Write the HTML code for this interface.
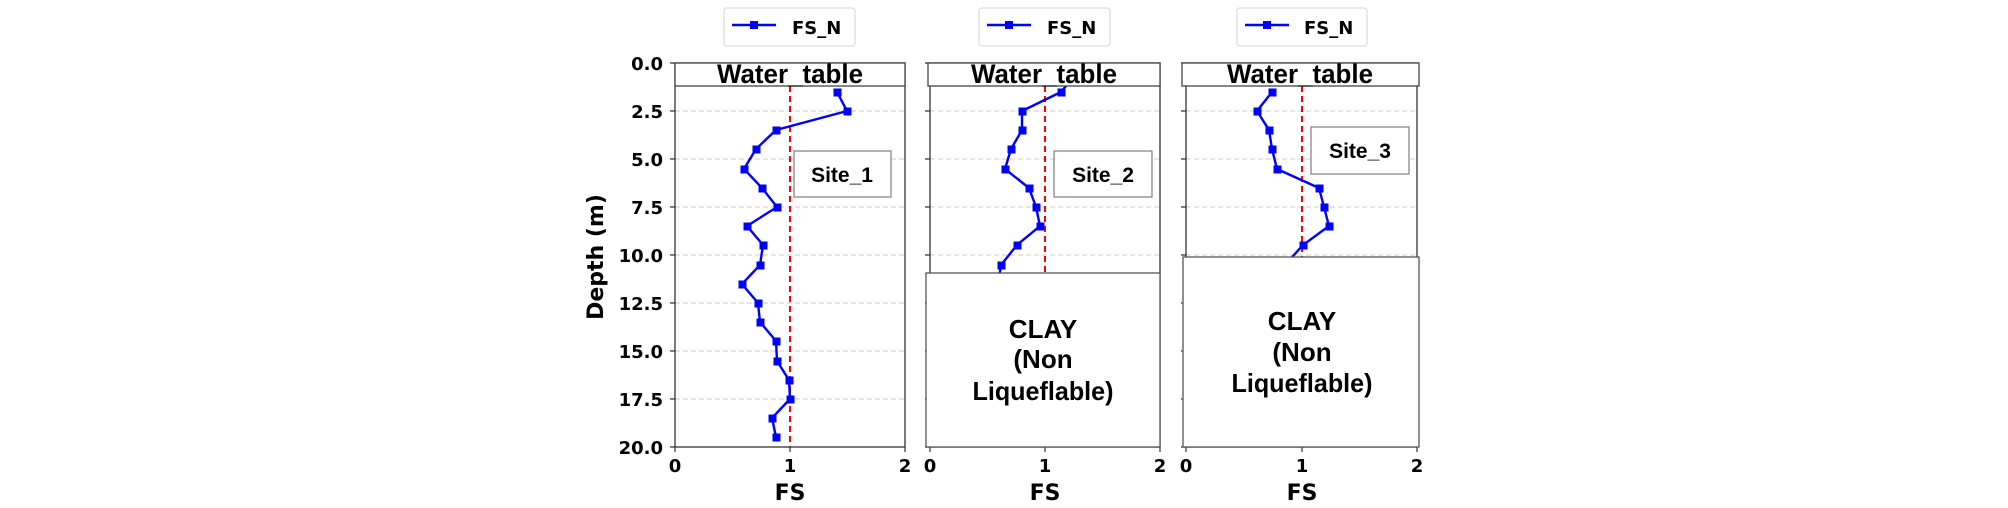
<!DOCTYPE html>
<html><head><meta charset="utf-8"><style>
html,body{margin:0;padding:0;background:#fff;}
svg{display:block}
.tk{font-family:"DejaVu Sans",sans-serif;font-weight:bold;font-size:18px;fill:#000}
.lb{font-family:"DejaVu Sans",sans-serif;font-weight:bold;font-size:22px;fill:#000}
.mg{font-family:"Liberation Sans","Noto Sans CJK KR",sans-serif;font-weight:bold;fill:#000}
</style></head><body>
<svg width="2008" height="508" viewBox="0 0 2008 508" xmlns="http://www.w3.org/2000/svg">
<defs>
<clipPath id="c1"><rect x="675" y="63" width="230" height="384"/></clipPath>
<clipPath id="c2"><rect x="930" y="63" width="230" height="384"/></clipPath>
<clipPath id="c3"><rect x="1186" y="63" width="231" height="384"/></clipPath>
</defs>

<g class="tk" text-anchor="end">
<text x="663" y="70">0.0</text><text x="663" y="118">2.5</text><text x="663" y="166">5.0</text>
<text x="663" y="214">7.5</text><text x="663" y="262">10.0</text><text x="663" y="310">12.5</text>
<text x="663" y="358">15.0</text><text x="663" y="406">17.5</text><text x="663" y="454">20.0</text>
</g>
<text class="lb" transform="translate(603,257) rotate(-90)" text-anchor="middle">Depth (m)</text>

<g stroke="#ccc" stroke-width="1" stroke-dasharray="5,3">
<line x1="675" x2="905" y1="111" y2="111"/><line x1="675" x2="905" y1="159" y2="159"/><line x1="675" x2="905" y1="207" y2="207"/><line x1="675" x2="905" y1="255" y2="255"/><line x1="675" x2="905" y1="303" y2="303"/><line x1="675" x2="905" y1="351" y2="351"/><line x1="675" x2="905" y1="399" y2="399"/>
<line x1="930" x2="1160" y1="111" y2="111"/><line x1="930" x2="1160" y1="159" y2="159"/><line x1="930" x2="1160" y1="207" y2="207"/><line x1="930" x2="1160" y1="255" y2="255"/>
<line x1="1186" x2="1417" y1="111" y2="111"/><line x1="1186" x2="1417" y1="159" y2="159"/><line x1="1186" x2="1417" y1="207" y2="207"/><line x1="1186" x2="1417" y1="255" y2="255"/>
</g>
<g stroke="#333" stroke-width="1.2">
<path d="M670 63h5M670 111h5M670 159h5M670 207h5M670 255h5M670 303h5M670 351h5M670 399h5M670 447h5"/>
<path d="M925 63h5M925 111h5M925 159h5M925 207h5M925 255h5M925 303h5M925 351h5M925 399h5M925 447h5"/>
<path d="M1181 63h5M1181 111h5M1181 159h5M1181 207h5M1181 255h5M1181 303h5M1181 351h5M1181 399h5M1181 447h5"/>
<path d="M675 447v5M790 447v5M905 447v5M930 447v5M1045 447v5M1160 447v5M1186 447v5M1302 447v5M1417 447v5"/>
</g>
<g stroke="#f00" stroke-width="2" stroke-dasharray="6,4">
<line x1="790" x2="790" y1="86" y2="447"/><line x1="1045" x2="1045" y1="86" y2="447"/><line x1="1302" x2="1302" y1="86" y2="447"/>
</g>
<g fill="none" stroke="#0000ff" stroke-width="2.4">
<polyline clip-path="url(#c1)" points="837,92 847,111 776,130 756,149 744,169 762,188 777,207 747,226 763,245 760,265 742,284 758,303 760,322 776,341 777,361 789,380 790,399 772,418 776,437"/>
<polyline clip-path="url(#c2)" points="1085,63 1061,92 1022,111 1022,130 1011,149 1005,169 1029,188 1036,207 1040,226 1017,245 1001,265 998,285"/>
<polyline clip-path="url(#c3)" points="1272,92 1257,111 1269,130 1272,149 1277,169 1319,188 1324,207 1329,226 1303,245 1285,265"/>
</g>
<g fill="#0000ff" stroke="#0000ff" stroke-width="1">
<rect x="834" y="89" width="7" height="7"/><rect x="844" y="108" width="7" height="7"/><rect x="773" y="127" width="7" height="7"/><rect x="753" y="146" width="7" height="7"/><rect x="741" y="166" width="7" height="7"/><rect x="759" y="185" width="7" height="7"/><rect x="774" y="204" width="7" height="7"/><rect x="744" y="223" width="7" height="7"/><rect x="760" y="242" width="7" height="7"/><rect x="757" y="262" width="7" height="7"/><rect x="739" y="281" width="7" height="7"/><rect x="755" y="300" width="7" height="7"/><rect x="757" y="319" width="7" height="7"/><rect x="773" y="338" width="7" height="7"/><rect x="774" y="358" width="7" height="7"/><rect x="786" y="377" width="7" height="7"/><rect x="787" y="396" width="7" height="7"/><rect x="769" y="415" width="7" height="7"/><rect x="773" y="434" width="7" height="7"/>
<rect x="1058" y="89" width="7" height="7"/><rect x="1019" y="108" width="7" height="7"/><rect x="1019" y="127" width="7" height="7"/><rect x="1008" y="146" width="7" height="7"/><rect x="1002" y="166" width="7" height="7"/><rect x="1026" y="185" width="7" height="7"/><rect x="1033" y="204" width="7" height="7"/><rect x="1037" y="223" width="7" height="7"/><rect x="1014" y="242" width="7" height="7"/><rect x="998" y="262" width="7" height="7"/>
<rect x="1269" y="89" width="7" height="7"/><rect x="1254" y="108" width="7" height="7"/><rect x="1266" y="127" width="7" height="7"/><rect x="1269" y="146" width="7" height="7"/><rect x="1274" y="166" width="7" height="7"/><rect x="1316" y="185" width="7" height="7"/><rect x="1321" y="204" width="7" height="7"/><rect x="1326" y="223" width="7" height="7"/><rect x="1300" y="242" width="7" height="7"/>
</g>
<g fill="none" stroke="#333" stroke-width="1.3">
<rect x="675" y="63" width="230" height="384"/>
<rect x="930" y="63" width="230" height="384"/>
<rect x="1186" y="63" width="231" height="384"/>
</g>
<g fill="#fff" stroke="#444" stroke-width="1.3">
<rect x="675" y="63" width="230" height="23"/>
<rect x="928" y="63" width="232" height="23"/>
<rect x="1182" y="63" width="237" height="23"/>
</g>
<g class="mg" font-size="27" text-anchor="middle">
<text x="790" y="83" textLength="146" lengthAdjust="spacingAndGlyphs">Water_table</text>
<text x="1044" y="83" textLength="146" lengthAdjust="spacingAndGlyphs">Water_table</text>
<text x="1300" y="83" textLength="146" lengthAdjust="spacingAndGlyphs">Water_table</text>
</g>
<g fill="#fff" stroke="#888" stroke-width="1.3">
<rect x="794" y="151" width="97" height="46"/>
<rect x="1054" y="151" width="98" height="46"/>
<rect x="1311" y="127" width="98" height="47"/>
</g>
<g class="mg" font-size="21" text-anchor="middle" font-weight="normal">
<text x="842" y="182">Site_1</text>
<text x="1103" y="182">Site_2</text>
<text x="1360" y="158">Site_3</text>
</g>
<g fill="#fff" stroke="#555" stroke-width="1.3">
<rect x="926" y="273" width="234" height="174"/>
<rect x="1183" y="257" width="236" height="190"/>
</g>
<g class="mg" font-size="26" text-anchor="middle">
<text x="1043" y="338">CLAY</text><text x="1043" y="368">(Non</text><text x="1043" y="400" textLength="141" lengthAdjust="spacingAndGlyphs">Liqueflable)</text>
<text x="1302" y="330">CLAY</text><text x="1302" y="361">(Non</text><text x="1302" y="392" textLength="141" lengthAdjust="spacingAndGlyphs">Liqueflable)</text>
</g>
<g class="tk" text-anchor="middle">
<text x="675" y="472">0</text><text x="790" y="472">1</text><text x="905" y="472">2</text>
<text x="930" y="472">0</text><text x="1045" y="472">1</text><text x="1160" y="472">2</text>
<text x="1186" y="472">0</text><text x="1302" y="472">1</text><text x="1417" y="472">2</text>
</g>
<g class="lb" text-anchor="middle">
<text x="790" y="500">FS</text><text x="1045" y="500">FS</text><text x="1302" y="500">FS</text>
</g>
<g>
<rect x="724" y="8" width="131" height="38" rx="3" fill="#fff" stroke="#ddd" stroke-width="1.3"/>
<line x1="732" x2="776" y1="25" y2="25" stroke="#00f" stroke-width="2.4"/><rect x="750" y="21" width="8" height="8" fill="#00f"/>
<text class="tk" x="792" y="34">FS_N</text>
<rect x="979" y="8" width="131" height="38" rx="3" fill="#fff" stroke="#ddd" stroke-width="1.3"/>
<line x1="987" x2="1031" y1="25" y2="25" stroke="#00f" stroke-width="2.4"/><rect x="1005" y="21" width="8" height="8" fill="#00f"/>
<text class="tk" x="1047" y="34">FS_N</text>
<rect x="1237" y="8" width="130" height="38" rx="3" fill="#fff" stroke="#ddd" stroke-width="1.3"/>
<line x1="1245" x2="1289" y1="25" y2="25" stroke="#00f" stroke-width="2.4"/><rect x="1263" y="21" width="8" height="8" fill="#00f"/>
<text class="tk" x="1304" y="34">FS_N</text>
</g>
</svg>
</body></html>
